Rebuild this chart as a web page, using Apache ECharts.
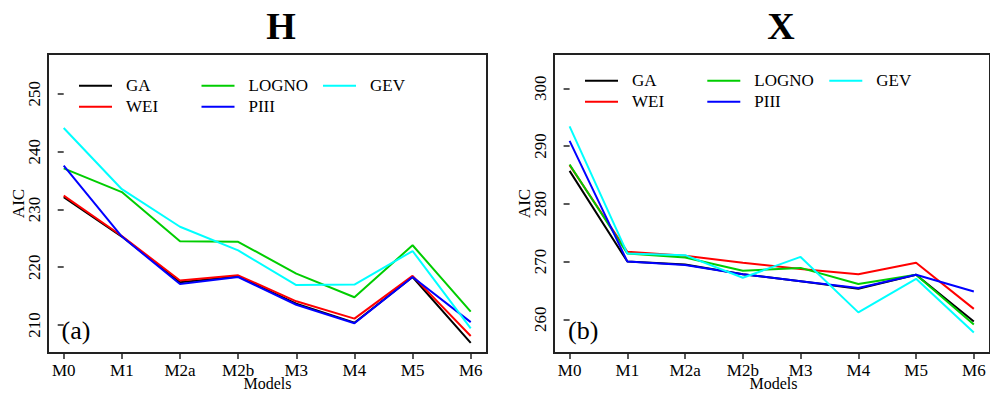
<!DOCTYPE html>
<html>
<head>
<meta charset="utf-8">
<script src="https://cdn.jsdelivr.net/npm/echarts@6/dist/echarts.min.js"></script>
<style>
html,body{margin:0;padding:0;background:#fff;}
#chart{width:990px;height:393px;}
</style>
</head>
<body>
<div id="chart"></div>
<script>
// ---- data ----
const categories = ['M0','M1','M2a','M2b','M3','M4','M5','M6'];
const seriesNames = ['GA','WEI','LOGNO','PIII','GEV'];

const H_GA    = [232.1, 225.3, 217.4, 218.4, 213.7, 210.4, 218.3, 206.9];
const H_WEI   = [232.4, 225.4, 217.7, 218.6, 214.1, 211.1, 218.5, 208.1];
const H_LOGNO = [237.1, 233.0, 224.5, 224.4, 218.9, 214.8, 223.8, 212.3];
const H_PIII  = [237.6, 225.3, 217.1, 218.3, 213.5, 210.3, 218.3, 210.5];
const H_GEV   = [244.1, 233.5, 227.0, 222.9, 216.9, 217.0, 222.8, 209.4];

const X_GA    = [285.7, 270.0, 269.5, 267.8, 266.6, 265.3, 267.7, 259.6];
const X_WEI   = [286.7, 271.7, 271.0, 269.8, 268.7, 267.8, 269.8, 261.8];
const X_LOGNO = [286.8, 271.4, 270.7, 268.4, 268.9, 266.1, 267.7, 259.1];
const X_PIII  = [290.9, 270.0, 269.4, 267.8, 266.6, 265.4, 267.7, 264.8];
const X_GEV   = [293.4, 271.4, 271.1, 267.2, 270.8, 261.2, 267.0, 257.7];

const H_ticks = [210, 220, 230, 240, 250];
const X_ticks = [260, 270, 280, 290, 300];

const panelTitles = ['H', 'X'];
const panelTags = ['(a)', '(b)'];
const xName = 'Models';
const yName = 'AIC';

// ---- styles ----
const FONT = "Liberation Serif, Times New Roman, serif";
const colors = {GA:'#000000', WEI:'#ff0000', LOGNO:'#00cd00', PIII:'#0000ff', GEV:'#00ffff'};
const catIdx = categories.map((c, i) => i);

const panels = [
  {data:{GA:H_GA, WEI:H_WEI, LOGNO:H_LOGNO, PIII:H_PIII, GEV:H_GEV}, ticks:H_ticks, min:205.15, max:256.9, left:48},
  {data:{GA:X_GA, WEI:X_WEI, LOGNO:X_LOGNO, PIII:X_PIII, GEV:X_GEV}, ticks:X_ticks, min:254.16, max:305.94, left:554}
];

const grid = [], xAxis = [], yAxis = [], series = [], legend = [], graphic = [];
panels.forEach((p, k) => {
  grid.push({left:p.left, top:54, width:439, height:299, show:true, borderColor:'#222', borderWidth:2, backgroundColor:'transparent'});
  xAxis.push({
    type:'value', gridIndex:k, min:-0.27, max:7.28,
    axisLine:{show:false}, splitLine:{show:false},
    axisTick:{show:true, length:6, lineStyle:{color:'#222', width:1.5}, customValues:catIdx},
    axisLabel:{customValues:catIdx, formatter:(v) => categories[Math.round(v)], margin:10.5, fontSize:17, lineHeight:14, color:'#000', fontFamily:FONT}
  });
  yAxis.push({
    type:'value', gridIndex:k, min:p.min, max:p.max,
    axisLine:{show:false}, splitLine:{show:false},
    axisTick:{show:true, length:6, lineStyle:{color:'#222', width:1.5}, customValues:p.ticks},
    axisLabel:{customValues:p.ticks, rotate:90, align:'center', verticalAlign:'middle', margin:14, fontSize:17, color:'#000', fontFamily:FONT}
  });
  seriesNames.forEach(n => {
    series.push({
      type:'line', name:n, xAxisIndex:k, yAxisIndex:k,
      data:p.data[n].map((v, i) => [i, v]),
      symbol:'none', lineStyle:{width:2, color:colors[n]}, itemStyle:{color:colors[n]},
      silent:true, animation:false
    });
  });
});

// legends: three columns per panel
const legendCols = [['GA','WEI'], ['LOGNO','PIII'], ['GEV']];
const legendPos = [
  {lefts:[79, 201.5, 323], top:77.2},
  {lefts:[585, 707.3, 829.3], top:72.2}
];
legendPos.forEach(lp => {
  legendCols.forEach((col, c) => {
    legend.push({
      orient:'vertical', left:lp.lefts[c], top:lp.top, padding:0, itemGap:4,
      itemWidth:33, itemHeight:2, icon:'rect',
      data:col.map(n => ({name:n, icon:'rect', itemStyle:{color:colors[n]}})),
      selectedMode:false,
      textStyle:{fontSize:17, fontFamily:FONT, color:'#000', padding:[0,0,0,9]}
    });
  });
});

// texts
const titleX = [281, 781];
const tagX = [61.5, 568];
const aicX = [18.5, 524];
const modelsX = [267.5, 773.5];
for (let k = 0; k < 2; k++) {
  graphic.push({type:'text', x:titleX[k], y:25.5, style:{text:panelTitles[k], font:"bold 38px " + FONT, fill:'#000', align:'center', verticalAlign:'middle'}});
  graphic.push({type:'text', x:tagX[k], y:330.5, style:{text:panelTags[k], font:"26px " + FONT, fill:'#000', align:'left', verticalAlign:'middle'}});
  graphic.push({type:'text', x:aicX[k], y:203.5, rotation:Math.PI/2, style:{text:yName, font:"17px " + FONT, fill:'#000', align:'center', verticalAlign:'middle'}});
  graphic.push({type:'text', x:modelsX[k], y:383.5, style:{text:xName, font:"16px " + FONT, lineHeight:14, fill:'#000', align:'center', verticalAlign:'middle'}});
}

const chart = echarts.init(document.getElementById('chart'), null, {renderer:'svg'});
chart.setOption({
  animation:false,
  backgroundColor:'#fff',
  grid, xAxis, yAxis, series, legend, graphic
});
</script>
</body>
</html>
